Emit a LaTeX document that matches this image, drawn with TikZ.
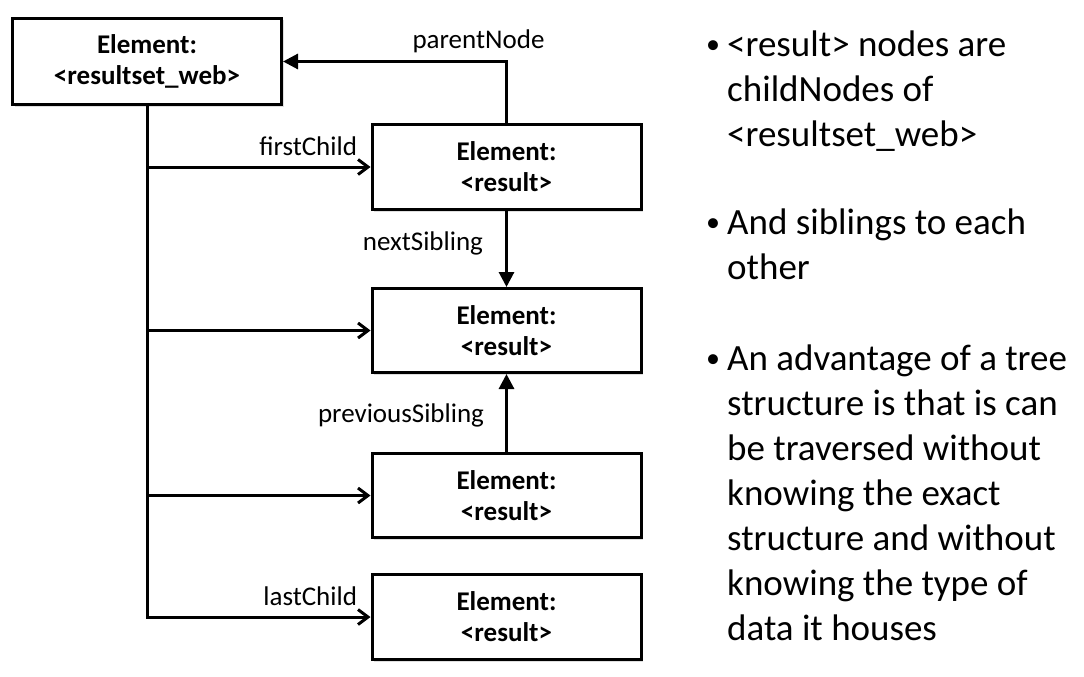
\documentclass[tikz,border=0pt]{standalone}
\usepackage{fontspec}
\setmainfont{Carlito}
\usetikzlibrary{arrows.meta,positioning,shadows}

\begin{document}
\begin{tikzpicture}[x=1pt, y=-1pt,
    elem/.style={draw, rectangle, line width=3pt, fill=white, minimum width=269pt, minimum height=86pt, align=center, font=\fontsize{27}{31}\selectfont\bfseries, drop shadow={shadow xshift=2pt, shadow yshift=-2pt, opacity=0.25}},
    lbl/.style={font=\fontsize{27}{32}\selectfont, inner sep=0pt},
    link/.style={line width=3pt, -{Triangle[length=15pt, width=15pt]}},
    child/.style={line width=3pt, -{Straight Barb[length=10pt, width=15pt]}},
    point/.style={font=\fontsize{37}{45}\selectfont, align=left, anchor=base west, inner sep=0pt},
    dot/.style={font=\fontsize{28}{30}\selectfont, anchor=base, inner sep=0pt, yshift=3pt}]
    \useasboundingbox (0,0) rectangle (1084,677);

    % Elements
    \node[elem] (resultset) at (147,61.5) {Element:\\<resultset\_web>};
    \node[elem, minimum height=85pt] (first) at (506.5,167) {Element:\\<result>};
    \node[elem, minimum height=84pt] (second) at (506.5,330.5) {Element:\\<result>};
    \node[elem, minimum height=84pt] (third) at (506.5,495.5) {Element:\\<result>};
    \node[elem, minimum height=85pt] (last) at (506.5,617) {Element:\\<result>};

    % Child links
    \draw[child] (resultset.south) |- (last.west) node[lbl, pos=1, anchor=base east, xshift=-12pt, yshift=12pt] (lastlbl) {lastChild};
    \draw[child] (resultset.south |- first.west) -- (first.west) node[lbl, pos=1, anchor=base east, xshift=-12pt, yshift=12pt] (firstlbl) {firstChild};
    \draw[child] (resultset.south |- second.west) -- (second.west);
    \draw[child] (resultset.south |- third.west) -- (third.west);

    % Parent and siblings
    \draw[link] (first.north) |- (resultset.east) node[lbl, pos=0.5, anchor=base, xshift=-28pt, yshift=13pt] (parentlbl) {parentNode};
    \draw[link] (first.south) -- (second.north) node[lbl, midway, anchor=base east, xshift=-22pt, yshift=-1pt] (nextlbl) {nextSibling};
    \draw[link] (third.north) -- (second.south) node[lbl, midway, anchor=base east, xshift=-21pt, yshift=-9pt] (prevlbl) {previousSibling};

    % Notes (base = last line)
    \node[dot] (dot1) at (713,57) {\textbullet};
    \node[point] (note1) at (727,146) {<result> nodes are\\childNodes of\\<resultset\_web>};
    \node[dot] (dot2) at (713,234) {\textbullet};
    \node[point] (note2) at (727,279) {And siblings to each\\other};
    \node[dot] (dot3) at (713,370) {\textbullet};
    \node[point] (note3) at (727,640) {An advantage of a tree\\structure is that is can\\be traversed without\\knowing the exact\\structure and without\\knowing the type of\\data it houses};
\end{tikzpicture}
\end{document}
